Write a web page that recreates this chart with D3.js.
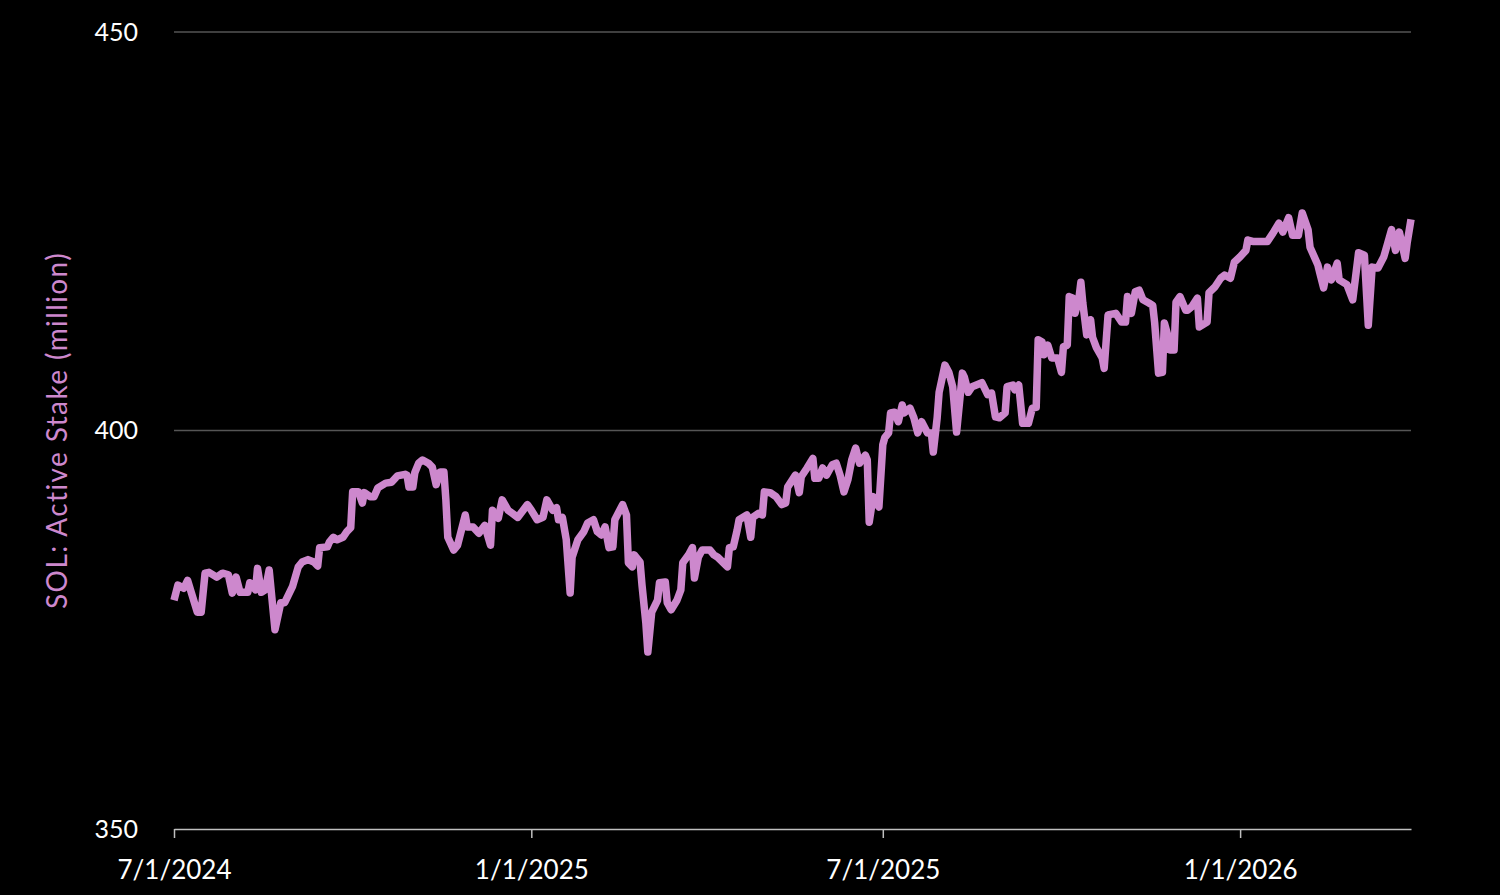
<!DOCTYPE html>
<html>
<head>
<meta charset="utf-8">
<script src="https://cdn.jsdelivr.net/npm/d3@7"></script>
<style>
  body { margin: 0; background: #000; }
  svg { display: block; }
</style>
</head>
<body>
<div id="chart"></div>
<script>
// data
const dates = [
  "2024-07-01","2024-07-03","2024-07-06","2024-07-08","2024-07-10","2024-07-13","2024-07-15","2024-07-17","2024-07-19","2024-07-23",
  "2024-07-26","2024-07-29","2024-07-31","2024-08-02","2024-08-04","2024-08-08","2024-08-09","2024-08-12","2024-08-13","2024-08-15",
  "2024-08-17","2024-08-19","2024-08-22","2024-08-25","2024-08-27","2024-08-29","2024-08-31","2024-09-03","2024-09-05","2024-09-08",
  "2024-09-11","2024-09-13","2024-09-14","2024-09-18","2024-09-19","2024-09-21","2024-09-23","2024-09-26","2024-09-28","2024-09-30",
  "2024-10-01","2024-10-04","2024-10-06","2024-10-07","2024-10-10","2024-10-12","2024-10-14","2024-10-18","2024-10-21","2024-10-24",
  "2024-10-28","2024-10-29","2024-10-30","2024-11-01","2024-11-02","2024-11-04","2024-11-06","2024-11-09","2024-11-11","2024-11-13",
  "2024-11-15","2024-11-17","2024-11-18","2024-11-19","2024-11-22","2024-11-24","2024-11-28","2024-11-29","2024-12-02","2024-12-05",
  "2024-12-08","2024-12-11","2024-12-12","2024-12-15","2024-12-17","2024-12-20","2024-12-25","2024-12-30","2025-01-01","2025-01-04",
  "2025-01-07","2025-01-09","2025-01-12","2025-01-14","2025-01-15","2025-01-17","2025-01-19","2025-01-21","2025-01-22","2025-01-25",
  "2025-01-28","2025-01-30","2025-02-02","2025-02-04","2025-02-06","2025-02-08","2025-02-10","2025-02-12","2025-02-13","2025-02-17",
  "2025-02-19","2025-02-20","2025-02-22","2025-02-23","2025-02-26","2025-02-27","2025-03-01","2025-03-02","2025-03-04","2025-03-07",
  "2025-03-08","2025-03-11","2025-03-12","2025-03-14","2025-03-17","2025-03-19","2025-03-20","2025-03-23","2025-03-25","2025-03-26",
  "2025-03-28","2025-03-30","2025-04-03","2025-04-05","2025-04-07","2025-04-12","2025-04-13","2025-04-15","2025-04-17","2025-04-18",
  "2025-04-22","2025-04-24","2025-04-25","2025-04-28","2025-04-30","2025-05-01","2025-05-04","2025-05-07","2025-05-10","2025-05-12",
  "2025-05-13","2025-05-17","2025-05-19","2025-05-20","2025-05-23","2025-05-26","2025-05-27","2025-05-29","2025-05-31","2025-06-02",
  "2025-06-05","2025-06-07","2025-06-09","2025-06-11","2025-06-13","2025-06-15","2025-06-17","2025-06-19","2025-06-22","2025-06-23",
  "2025-06-24","2025-06-26","2025-06-29","2025-07-01","2025-07-02","2025-07-04","2025-07-05","2025-07-07","2025-07-09","2025-07-11",
  "2025-07-12","2025-07-15","2025-07-17","2025-07-19","2025-07-21","2025-07-24","2025-07-26","2025-07-27","2025-07-29","2025-07-30",
  "2025-08-02","2025-08-04","2025-08-06","2025-08-08","2025-08-11","2025-08-12","2025-08-14","2025-08-16","2025-08-21","2025-08-24",
  "2025-08-26","2025-08-28","2025-08-30","2025-09-02","2025-09-03","2025-09-06","2025-09-07","2025-09-09","2025-09-11","2025-09-14",
  "2025-09-16","2025-09-18","2025-09-19","2025-09-21","2025-09-22","2025-09-24","2025-09-26","2025-09-29","2025-10-01","2025-10-02",
  "2025-10-04","2025-10-05","2025-10-07","2025-10-08","2025-10-10","2025-10-11","2025-10-12","2025-10-14","2025-10-16","2025-10-17",
  "2025-10-19","2025-10-22","2025-10-23","2025-10-25","2025-10-29","2025-11-01","2025-11-03","2025-11-04","2025-11-06","2025-11-08",
  "2025-11-10","2025-11-12","2025-11-15","2025-11-17","2025-11-18","2025-11-20","2025-11-22","2025-11-23","2025-11-25","2025-11-26",
  "2025-11-28","2025-11-29","2025-12-01","2025-12-04","2025-12-05","2025-12-07","2025-12-10","2025-12-11","2025-12-15","2025-12-16",
  "2025-12-19","2025-12-22","2025-12-24","2025-12-27","2025-12-29","2026-01-01","2026-01-04","2026-01-05","2026-01-08","2026-01-15",
  "2026-01-18","2026-01-21","2026-01-23","2026-01-26","2026-01-28","2026-01-31","2026-02-02","2026-02-05","2026-02-06","2026-02-10",
  "2026-02-11","2026-02-13","2026-02-15","2026-02-17","2026-02-20","2026-02-21","2026-02-25","2026-02-28","2026-03-03","2026-03-06",
  "2026-03-08","2026-03-10","2026-03-13","2026-03-16","2026-03-18","2026-03-20","2026-03-22","2026-03-24","2026-03-27","2026-03-28",
  "2026-03-30"
];
const stake = [
  378.7,380.6,380.2,381.2,379.6,377.2,377.2,382.1,382.2,381.6,
  382.1,381.9,379.6,381.6,379.7,379.7,380.9,380.0,382.7,379.7,
  380.0,382.5,375.0,378.4,378.4,379.4,380.4,382.9,383.5,383.8,
  383.5,383.0,385.3,385.4,386.0,386.6,386.3,386.6,387.3,387.8,
  392.3,392.3,390.9,392.2,391.7,391.7,392.8,393.4,393.5,394.3,
  394.5,394.4,392.9,392.9,394.7,395.9,396.3,395.9,395.4,393.2,
  394.8,394.8,391.3,386.6,385.0,385.6,389.4,387.9,387.9,387.1,
  388.1,385.6,390.0,389.0,391.3,390.0,389.1,390.7,390.0,388.8,
  389.1,391.3,390.0,390.3,388.8,389.1,386.3,379.6,384.1,386.3,
  387.3,388.4,388.8,387.3,386.9,387.9,385.3,385.4,388.8,390.7,
  389.4,383.4,382.9,384.4,383.5,380.6,375.8,372.2,377.2,378.7,
  380.9,381.0,378.4,377.5,378.7,380.0,383.4,384.4,385.3,381.5,
  384.1,385.0,385.0,384.4,384.1,382.9,385.3,385.4,387.5,388.8,
  389.4,386.6,389.1,389.6,389.4,392.3,392.2,391.7,390.7,390.9,
  392.9,394.4,392.2,394.2,395.3,396.5,394.0,394.0,395.3,394.4,
  395.7,395.9,394.4,392.3,393.8,396.3,397.8,395.9,396.9,396.3,
  388.5,391.7,390.4,398.2,399.1,399.7,402.2,402.3,401.1,403.2,
  402.2,402.8,401.6,399.7,401.1,399.7,399.7,397.3,401.6,404.8,
  408.2,407.3,405.5,399.8,407.2,406.7,404.8,405.5,406.0,404.5,
  404.7,401.7,401.6,402.2,405.5,405.7,405.1,405.7,400.9,400.9,
  402.8,402.9,411.4,411.1,409.5,410.7,409.1,409.1,407.3,410.5,
  410.7,416.8,416.6,414.7,416.6,418.6,416.0,412.0,413.9,411.7,
  410.4,409.1,407.8,414.5,414.7,413.6,413.6,416.8,414.7,417.4,
  417.6,416.4,416.0,415.7,413.5,407.2,407.3,413.5,411.7,410.1,
  410.1,416.1,416.8,415.1,415.1,415.5,416.6,413.0,413.6,417.3,
  418.0,419.1,419.5,419.1,421.1,421.8,422.6,423.9,423.7,423.7,
  424.8,426.0,424.9,426.7,424.5,424.5,427.3,425.2,423.0,420.8,
  419.8,417.9,420.5,418.9,421.0,418.9,418.3,416.4,422.3,422.0,
  413.2,420.5,420.4,421.8,423.5,425.2,422.6,424.9,421.6,423.5,
  426.5
];
const yTicks = [350, 400, 450];
const xTicks = ["2024-07-01", "2025-01-01", "2025-07-01", "2026-01-01"];
const yLabel = "SOL: Active Stake (million)";

const width = 1500, height = 895;
const margin = { top: 32, right: 89, bottom: 66, left: 174 };
const lineColor = "#cd88cd";
const font = "Lato, 'Open Sans', sans-serif";

const parse = d3.timeParse("%Y-%m-%d");
const data = dates.map((d, i) => ({ date: parse(d), value: stake[i] }));

const svg = d3.select("#chart").append("svg")
  .attr("width", width)
  .attr("height", height)
  .style("background", "#000");

const x = d3.scaleTime()
  .domain([parse("2024-07-01"), parse("2026-03-30")])
  .range([margin.left, width - margin.right]);

const y = d3.scaleLinear()
  .domain([350, 450])
  .range([height - margin.bottom, margin.top]);

// gridlines
svg.append("g")
  .selectAll("line")
  .data(yTicks.filter(t => t > 350))
  .enter()
  .append("line")
  .attr("x1", margin.left)
  .attr("x2", width - margin.right)
  .attr("y1", d => y(d))
  .attr("y2", d => y(d))
  .attr("stroke", "#555")
  .attr("stroke-width", 1.5);

// y axis labels
const yAxis = svg.append("g")
  .attr("transform", "translate(" + margin.left + ",0)")
  .call(d3.axisLeft(y).tickValues(yTicks).tickSize(0).tickPadding(36));
yAxis.select(".domain").remove();
yAxis.selectAll("text")
  .attr("fill", "#fff")
  .style("font-family", font)
  .style("font-size", "25px");

// x axis
const fmt = d3.timeFormat("%-m/%-d/%Y");
const xAxis = svg.append("g")
  .attr("transform", "translate(0," + y(350) + ")")
  .call(d3.axisBottom(x).tickValues(xTicks.map(parse)).tickFormat(fmt).tickSize(9).tickSizeOuter(0).tickPadding(23));
xAxis.select(".domain").attr("stroke", "#bfbfbf").attr("stroke-width", 1.5);
xAxis.selectAll(".tick line").attr("stroke", "#bfbfbf").attr("stroke-width", 1.5);
xAxis.selectAll("text")
  .attr("fill", "#fff")
  .style("font-family", font)
  .style("font-size", "26px");

// y axis title
svg.append("text")
  .attr("transform", "translate(57," + y(400) + ") rotate(-90)")
  .attr("text-anchor", "middle")
  .attr("dy", "0.35em")
  .attr("fill", lineColor)
  .style("font-family", font)
  .style("font-size", "28px")
  .style("letter-spacing", "1.4px")
  .text(yLabel);

// the series
const line = d3.line()
  .x(d => x(d.date))
  .y(d => y(d.value));

svg.append("path")
  .datum(data)
  .attr("fill", "none")
  .attr("stroke", lineColor)
  .attr("stroke-width", 7.5)
  .attr("stroke-linejoin", "round")
  .attr("d", line);
</script>
</body>
</html>
